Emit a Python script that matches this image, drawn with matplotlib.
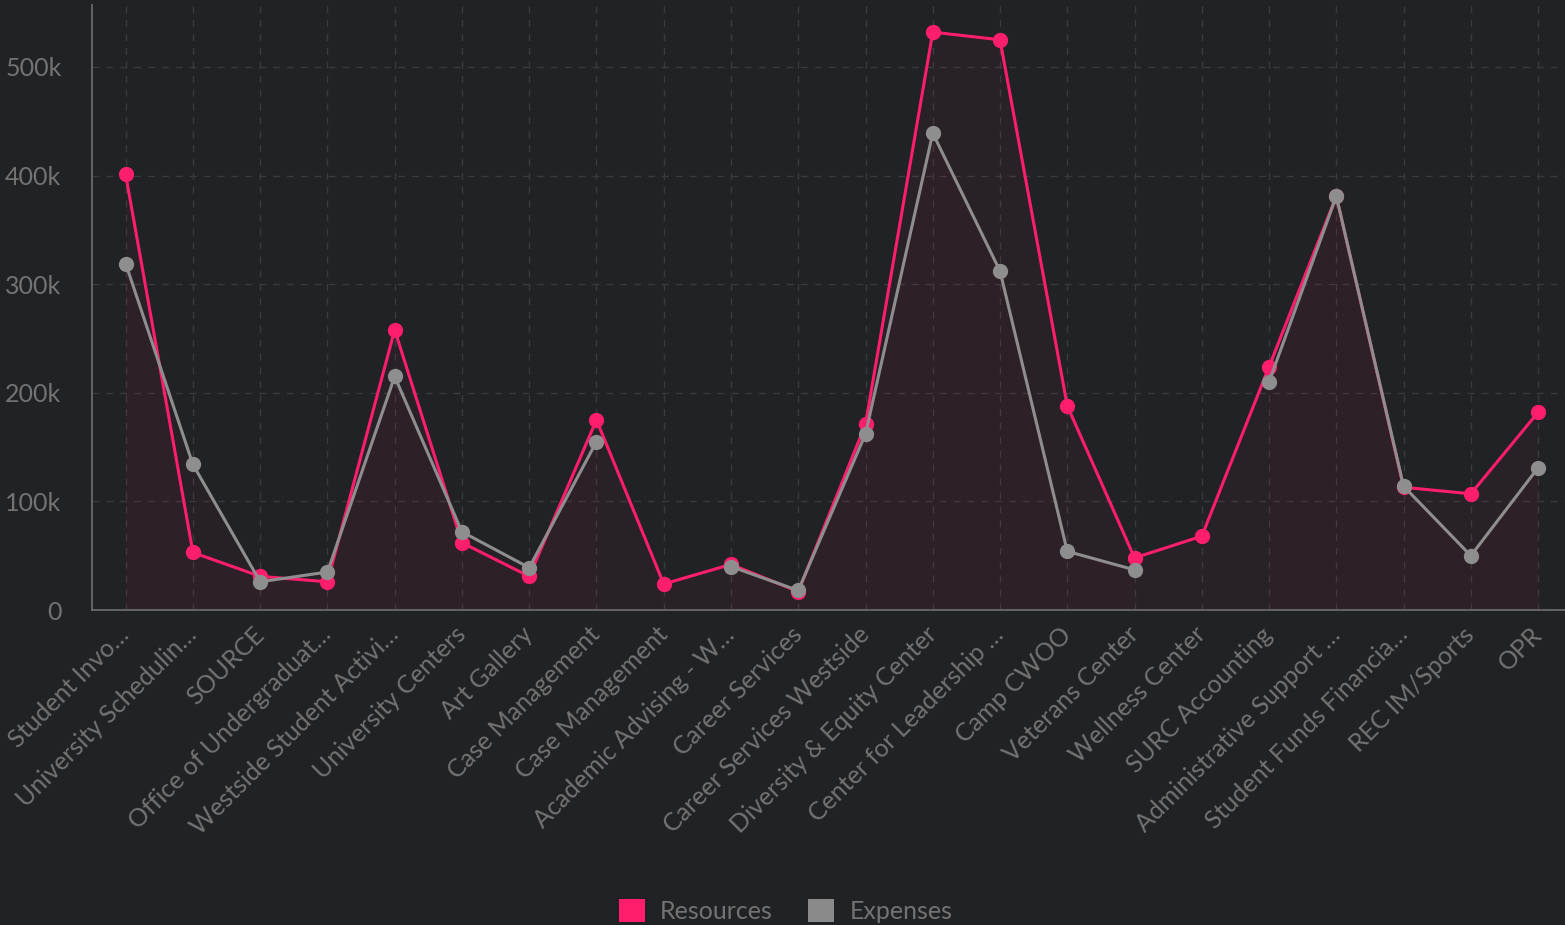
import numpy as np
import matplotlib.pyplot as plt
from matplotlib.patches import Patch
from matplotlib.ticker import FuncFormatter

# Budget per department: resources vs expenses
departments = [
    "Student Invo…", "University Schedulin…", "SOURCE", "Office of Undergraduat…",
    "Westside Student Activi…", "University Centers", "Art Gallery", "Case Management",
    "Case Management", "Academic Advising - W…", "Career Services",
    "Career Services Westside", "Diversity & Equity Center", "Center for Leadership …",
    "Camp CWOO", "Veterans Center", "Wellness Center", "SURC Accounting",
    "Administrative Support …", "Student Funds Financia…", "REC IM/Sports", "OPR",
]
resources = [401000, 53000, 31000, 26000, 258000, 62000, 31000, 175000,
             24000, 42000, 17000, 171000, 532000, 525000, 188000, 48000,
             68000, 224000, 381000, 113000, 107000, 182000]
expenses = [319000, 134000, 26000, 35000, 215000, 72000, 39000, 155000,
            np.nan, 40000, 18000, 162000, 439000, 312000, 54000, 37000,
            np.nan, 210000, 381000, 114000, 50000, 131000]

bg = "#212224"
pink = "#ff1e6c"
gray = "#8e8e8e"
text_col = "#737373"

plt.rcParams['font.family'] = ['Lato', 'DejaVu Sans']

fig = plt.figure(figsize=(15.65, 9.25), dpi=100, facecolor=bg)
ax = fig.add_axes([0.0588, 0.3405, 0.9412, 0.6541], facecolor=bg)

x = np.arange(len(departments))
res = np.array(resources, dtype=float)
exp = np.array(expenses, dtype=float)

# grid first, fills over it
ax.grid(True, color="#3a3a3c", linestyle=(0, (5, 5)), linewidth=1.0, zorder=0)
ax.set_axisbelow(True)

ax.fill_between(x, res, 0, color="#ff2060", alpha=0.035, linewidth=0, zorder=1)
ax.fill_between(x, exp, 0, color="#ff2060", alpha=0.025, linewidth=0, zorder=1)

ax.plot(x, res, color=pink, linewidth=2.2, marker="o", markersize=11,
        markeredgewidth=0, zorder=3)
ax.plot(x, exp, color=gray, linewidth=2.2, marker="o", markersize=11,
        markeredgewidth=0, zorder=4)

ax.set_xlim(-0.5, 21.4)
ax.set_ylim(0, 557000)
ax.set_yticks([0, 100000, 200000, 300000, 400000, 500000])
ax.yaxis.set_major_formatter(FuncFormatter(lambda v, p: "0" if v == 0 else f"{int(v / 1000)}k"))

ax.set_xticks(x)
ax.set_xticklabels(departments, rotation=45, ha="right", va="center",
                   rotation_mode="anchor")
ax.tick_params(axis="x", length=0, pad=15, labelsize=18, labelcolor=text_col)
ax.tick_params(axis="y", length=0, pad=22, labelsize=18, labelcolor=text_col)

for side in ["top", "right"]:
    ax.spines[side].set_visible(False)
for side in ["left", "bottom"]:
    ax.spines[side].set_color("#6a6a6a")
    ax.spines[side].set_linewidth(1.3)

handles = [Patch(facecolor=pink, edgecolor="none", label="Resources"),
           Patch(facecolor="#8a8a8a", edgecolor="none", label="Expenses")]
leg = fig.legend(handles=handles, loc="lower center", bbox_to_anchor=(0.502, -0.022),
                 ncol=2, frameon=False, handlelength=1.05, handleheight=1.05,
                 handletextpad=0.6, columnspacing=1.4,
                 prop={"size": 18})
for t in leg.get_texts():
    t.set_color(text_col)

fig.savefig("out.png", dpi=100, facecolor=bg)
